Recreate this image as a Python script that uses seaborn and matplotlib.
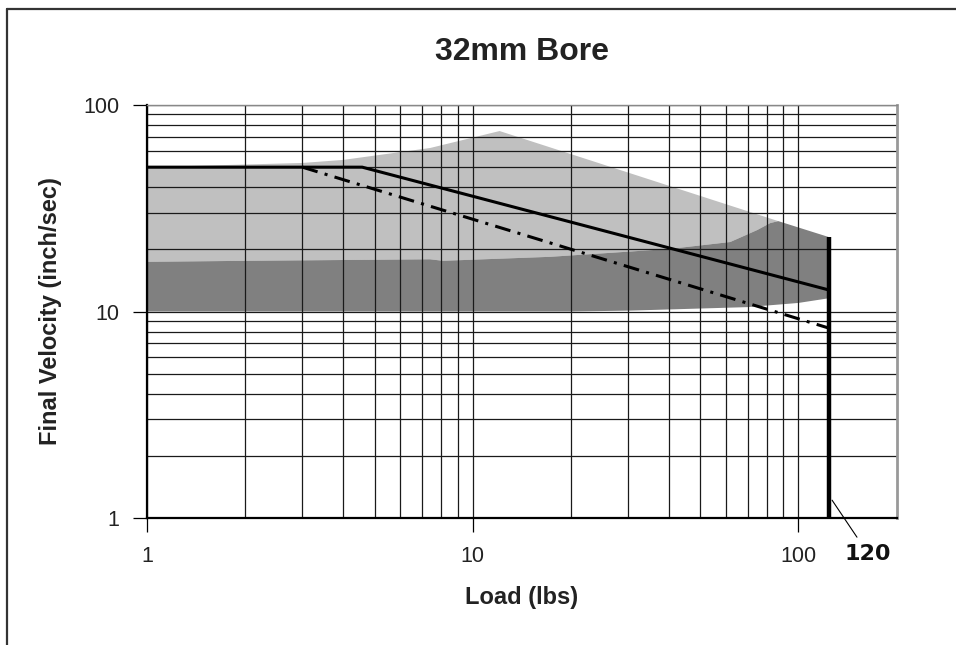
import matplotlib
matplotlib.use("Agg")
import matplotlib.pyplot as plt
from matplotlib.lines import Line2D
from matplotlib.ticker import FixedLocator, NullFormatter
import seaborn as sns
import pandas as pd

# zone boundaries (load lbs, velocity inch/sec)
light_top_x = [1, 3.0, 4.0, 7.4, 12.1, 86.8, 124.5]
light_top_y = [50, 52.4, 54.2, 61.9, 74.8, 27.4, 22.9]

dark_top_x = [1, 2.03, 7.4, 8.1, 17.3, 40.4, 61.8, 74.8, 82.0, 86.8, 124.5]
dark_top_y = [17.4, 17.6, 17.9, 17.6, 18.4, 20.1, 21.7, 24.8, 26.8, 27.4, 22.9]

dark_bot_x = [1, 20.0, 30.5, 69.7, 100, 124.5]
dark_bot_y = [10, 10, 10.1, 10.5, 11.0, 11.6]

# rated lines
solid_x = [1, 4.58, 124.5]
solid_y = [50, 50, 12.7]
dashdot_x = [3.0, 124.5]
dashdot_y = [50, 8.3]

max_load = 124.5
max_load_top = 22.9
max_load_label = "120"

x_major = [1, 10, 100]
x_minor = [2, 3, 4, 5, 6, 7, 8, 9, 20, 30, 40, 50, 60, 70, 80, 90]
y_major = [1, 10, 100]
y_minor = [2, 3, 4, 5, 6, 7, 8, 9, 20, 30, 40, 50, 60, 70, 80, 90]

sns.set_theme(style="white")
plt.rcParams['font.family'] = ['Liberation Sans', 'DejaVu Sans']

fig = plt.figure(figsize=(9.56, 6.45), dpi=100)
ax = fig.add_axes([147 / 956, 1 - 518 / 645, 750 / 956, 413 / 645])
ax.set_xscale('log')
ax.set_yscale('log')
ax.set_xlim(1, 201)
ax.set_ylim(1, 100)

# shaded zones
ax.fill(light_top_x + dark_top_x[::-1], light_top_y + dark_top_y[::-1],
        color='#c0c0c0', lw=0, zorder=1)
ax.fill(dark_top_x + dark_bot_x[::-1], dark_top_y + dark_bot_y[::-1],
        color='#808080', lw=0, zorder=1)

# grid
ax.xaxis.set_major_locator(FixedLocator(x_major))
ax.xaxis.set_minor_locator(FixedLocator(x_minor))
ax.yaxis.set_major_locator(FixedLocator(y_major))
ax.yaxis.set_minor_locator(FixedLocator(y_minor))
ax.xaxis.set_minor_formatter(NullFormatter())
ax.yaxis.set_minor_formatter(NullFormatter())
ax.set_xticklabels([str(v) for v in x_major])
ax.set_yticklabels([str(v) for v in y_major])
ax.grid(which='both', color='#1a1a1a', lw=0.9, zorder=2)
ax.set_axisbelow(False)
for gl in ax.get_xgridlines() + ax.get_ygridlines():
    gl.set_zorder(2)

df_solid = pd.DataFrame({'load': solid_x, 'vel': solid_y})
df_dd = pd.DataFrame({'load': dashdot_x, 'vel': dashdot_y})
sns.lineplot(data=df_solid, x='load', y='vel', ax=ax, color='black',
             lw=2.2, estimator=None, zorder=4)
sns.lineplot(data=df_dd, x='load', y='vel', ax=ax, color='black',
             lw=2.2, estimator=None, zorder=4,
             linestyle=(0, (5.2, 2.4, 1.0, 2.4)))
ax.plot([max_load, max_load], [1, max_load_top], color='black', lw=3.2,
        solid_capstyle='butt', zorder=5)

ax.annotate(max_load_label, xy=(127, 1.22), xytext=(164, 0.67),
            textcoords='data', ha='center', va='center',
            fontsize=16, fontweight='bold', family=['DejaVu Sans'],
            color='#111111', annotation_clip=False,
            arrowprops=dict(arrowstyle='-', lw=0.8, color='black',
                            shrinkA=3, shrinkB=0))

ax.tick_params(which='major', direction='out', length=10, width=0.9,
               color='black', labelsize=15.5, pad=10, labelcolor='#222222',
               bottom=True, left=True)
ax.tick_params(which='minor', length=0)

for s in ['left', 'bottom']:
    ax.spines[s].set_color('black')
    ax.spines[s].set_linewidth(1.6)
ax.spines['right'].set_color('#999999')
ax.spines['right'].set_linewidth(2)
ax.spines['top'].set_color('#888888')
ax.spines['top'].set_linewidth(1)
for sp in ax.spines.values():
    sp.set_zorder(6)

ax.set_xlabel('Load (lbs)', fontsize=17, fontweight='bold', va='center',
              color='#222222')
ax.xaxis.set_label_coords(0.5, -0.1937)
ax.set_ylabel('Final Velocity (inch/sec)', fontsize=17, fontweight='bold',
              va='center', color='#222222')
ax.yaxis.set_label_coords(-0.1293, 0.5)

fig.text(0.546, 1 - 52 / 645, '32mm Bore', ha='center', va='center',
         fontsize=23, fontweight='bold', color='#222222')

# outer frame
fig.add_artist(Line2D([7 / 956, 1], [1 - 9 / 645, 1 - 9 / 645],
                      color='#333333', lw=1.6))
fig.add_artist(Line2D([7 / 956, 7 / 956], [0, 1 - 9 / 645],
                      color='#333333', lw=1.6))

fig.savefig('out.png', dpi=100)
